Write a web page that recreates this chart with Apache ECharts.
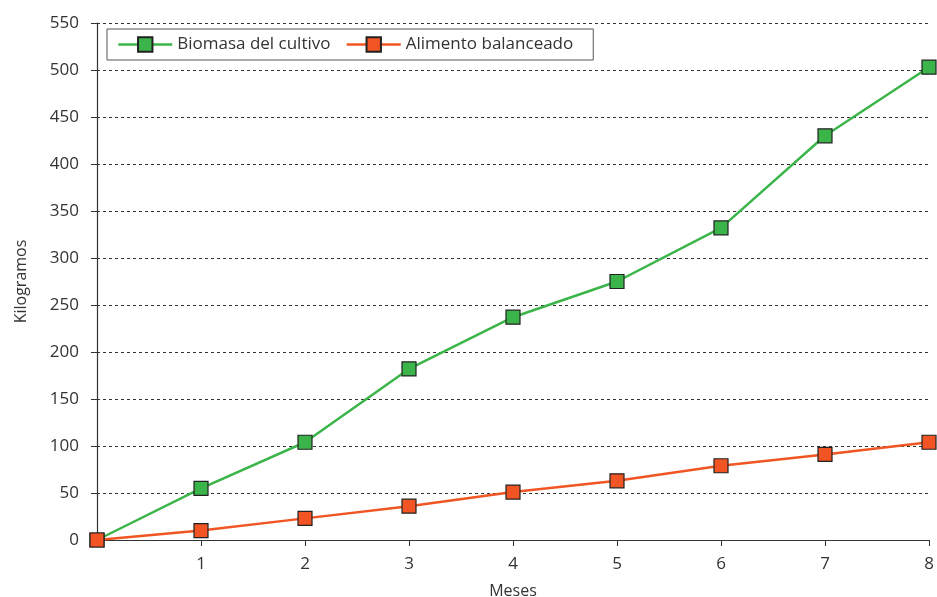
<!DOCTYPE html>
<html><head><meta charset="utf-8">
<script src="https://cdn.jsdelivr.net/npm/echarts@6/dist/echarts.min.js"></script>
<style>html,body{margin:0;padding:0;background:#fff}#c{width:937px;height:597px}</style>
</head><body><div id="c"></div>
<script>
const months = [0, 1, 2, 3, 4, 5, 6, 7, 8];
const biomasa = [0, 55, 104, 182, 237, 275, 332, 430, 503];
const alimento = [0, 10, 23, 36, 51, 63, 79, 91, 104];
const seriesNames = ['Biomasa del cultivo', 'Alimento balanceado'];
const colors = ['#3bb54a', '#f05523'];
const font = '"Open Sans", sans-serif';

const chart = echarts.init(document.getElementById('c'), null, {renderer: 'canvas'});
function mk(name, vals, color) {
  return {
    name: name, type: 'line', data: months.map((m, i) => [m, vals[i]]),
    symbol: 'rect', symbolSize: 14,
    lineStyle: {color: color, width: 2.5},
    itemStyle: {color: color, borderColor: '#222', borderWidth: 1.2},
    emphasis: {disabled: true}, animation: false, clip: false
  };
}
chart.setOption({
  animation: false,
  textStyle: {fontFamily: font},
  grid: {left: 97, right: 8, top: 23, bottom: 57, containLabel: false, outerBoundsMode: 'none'},
  legend: {
    left: 107, top: 29, orient: 'horizontal',
    borderColor: '#555', borderWidth: 1, padding: [7, 20, 7, 10],
    itemWidth: 54, itemHeight: 18, itemGap: 15,
    lineStyle: {width: 2.5},
    textStyle: {fontFamily: font, fontSize: 17, color: '#333'},
    data: seriesNames
  },
  xAxis: {
    type: 'value', min: 0, max: 8, interval: 1,
    name: 'Meses', nameLocation: 'middle', nameGap: 43,
    nameTextStyle: {fontFamily: font, fontSize: 16, color: '#333'},
    axisLine: {show: true, lineStyle: {color: '#333', width: 1.2}},
    axisTick: {show: true, length: 6, lineStyle: {color: '#333'}},
    axisLabel: {fontFamily: font, fontSize: 17, color: '#333', margin: 16,
      formatter: v => v === 0 ? '' : String(v)},
    splitLine: {show: false}
  },
  yAxis: {
    type: 'value', min: 0, max: 550, interval: 50,
    name: 'Kilogramos', nameLocation: 'middle', nameGap: 68,
    nameTextStyle: {fontFamily: font, fontSize: 16, color: '#333'},
    axisLine: {show: true, lineStyle: {color: '#333', width: 1.2}},
    axisTick: {show: true, length: 6, lineStyle: {color: '#333'}},
    axisLabel: {fontFamily: font, fontSize: 17, color: '#333', margin: 18},
    splitLine: {show: true, lineStyle: {color: '#333', type: [3, 3], width: 1}}
  },
  series: [mk(seriesNames[0], biomasa, colors[0]), mk(seriesNames[1], alimento, colors[1])]
});
</script></body></html>
